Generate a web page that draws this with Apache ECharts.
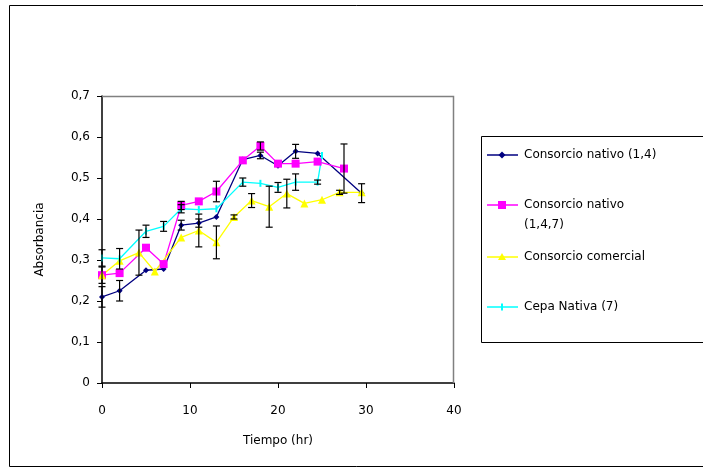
<!DOCTYPE html>
<html>
<head>
<meta charset="utf-8">
<script src="https://cdn.jsdelivr.net/npm/echarts@6/dist/echarts.min.js"></script>
<style>
  html, body { margin: 0; padding: 0; background: #fff; }
  #chart { width: 703px; height: 470px; }
</style>
</head>
<body>
<div id="chart"></div>
<script>
// series names
const names = ['Consorcio nativo (1,4)', 'Consorcio nativo (1,4,7)', 'Consorcio comercial', 'Cepa Nativa (7)']

// Consorcio nativo (1,4)
const navyT = [0, 2, 5, 7, 9, 11, 13, 16, 18, 20, 22, 24.5, 29.5]
const navyY = [0.21, 0.225, 0.275, 0.278, 0.385, 0.39, 0.405, 0.545, 0.555, 0.53, 0.565, 0.56, 0.463]
const navyE = [0.025, 0.025, 0, 0, 0.012, 0.01, 0, 0, 0.008, 0, 0.017, 0, 0.023]

// Consorcio nativo (1,4,7)
const pinkT = [0, 2, 5, 7, 9, 11, 13, 16, 18, 20, 22, 24.5, 27.5]
const pinkY = [0.263, 0.268, 0.33, 0.29, 0.433, 0.443, 0.467, 0.543, 0.578, 0.535, 0.535, 0.54, 0.523]
const pinkE = [0.02, 0, 0, 0, 0.01, 0, 0.025, 0, 0.01, 0, 0, 0, 0.06]

// Consorcio comercial
const yellowT = [0, 2, 4.2, 6, 9, 11, 13, 15, 17, 19, 21, 23, 25, 27, 29.5]
const yellowY = [0.263, 0.298, 0.318, 0.272, 0.355, 0.372, 0.343, 0.405, 0.445, 0.43, 0.462, 0.438, 0.447, 0.465, 0.465]
const yellowE = [0, 0, 0.055, 0, 0, 0.04, 0.04, 0.005, 0.017, 0.05, 0.035, 0, 0, 0.005, 0]

// Cepa Nativa (7)
const cyanT = [0, 2, 5, 7, 9, 11, 13, 16, 18, 20, 22, 24.5, 25]
const cyanY = [0.305, 0.303, 0.37, 0.382, 0.425, 0.423, 0.425, 0.49, 0.487, 0.477, 0.49, 0.49, 0.555]
const cyanE = [0.02, 0.025, 0.015, 0.012, 0.01, 0, 0, 0.01, 0, 0.012, 0.02, 0.005, 0]

const colors = ['#000080', '#ff00ff', '#ffff00', '#00ffff']
const symbols = ['diamond', 'rect', 'triangle', 'rect']
const symbolSizes = [6, 8, 8, [2, 7]]

const yTicks = [0, 0.1, 0.2, 0.3, 0.4, 0.5, 0.6, 0.7]
const xTicks = [0, 10, 20, 30, 40]

const FONT = 'DejaVu Sans'

function pts(t, y) {
  return t.map((v, i) => [v, y[i]])
}
function errs(t, y, e) {
  const out = []
  t.forEach((v, i) => {
    if (e[i] > 0) out.push([v, y[i] - e[i], y[i] + e[i]])
  })
  return out
}

function errRender(params, api) {
  const x = api.value(0)
  const top = api.coord([x, api.value(2)])
  const bot = api.coord([x, api.value(1)])
  const st = { stroke: '#000', lineWidth: 1.2 }
  return {
    type: 'group',
    children: [
      { type: 'line', shape: { x1: top[0], y1: top[1], x2: bot[0], y2: bot[1] }, style: st },
      { type: 'line', shape: { x1: top[0] - 3.5, y1: top[1], x2: top[0] + 3.5, y2: top[1] }, style: st },
      { type: 'line', shape: { x1: bot[0] - 3.5, y1: bot[1], x2: bot[0] + 3.5, y2: bot[1] }, style: st }
    ]
  }
}

const sets = [
  [navyT, navyY, navyE],
  [pinkT, pinkY, pinkE],
  [yellowT, yellowY, yellowE],
  [cyanT, cyanY, cyanE]
]

const series = []
sets.forEach((s, k) => {
  series.push({
    name: names[k],
    type: 'line',
    data: pts(s[0], s[1]),
    symbol: symbols[k],
    symbolSize: symbolSizes[k],
    showAllSymbol: true,
    lineStyle: { color: colors[k], width: 1.3 },
    itemStyle: { color: colors[k] },
    z: 3
  })
  series.push({
    type: 'custom',
    renderItem: errRender,
    data: errs(s[0], s[1], s[2]),
    z: 4,
    silent: true
  })
})

// legend drawn by hand to copy the boxed layout
const legendRows = [
  { y: 155, lines: ['Consorcio nativo (1,4)'] },
  { y: 205, lines: ['Consorcio nativo', '(1,4,7)'] },
  { y: 257, lines: ['Consorcio comercial'] },
  { y: 307, lines: ['Cepa Nativa (7)'] }
]
const legendEls = [
  { type: 'rect', shape: { x: 481.5, y: 136.5, width: 240, height: 206 },
    style: { fill: '#fff', stroke: '#000', lineWidth: 1 }, z: 10 }
]
legendRows.forEach((r, k) => {
  legendEls.push({ type: 'line', shape: { x1: 487, y1: r.y, x2: 518, y2: r.y },
    style: { stroke: colors[k], lineWidth: 1.5 }, z: 11 })
  let m
  if (k === 0) m = { type: 'polygon', shape: { points: [[502, r.y - 3.5], [505.5, r.y], [502, r.y + 3.5], [498.5, r.y]] } }
  else if (k === 1) m = { type: 'rect', shape: { x: 498, y: r.y - 4, width: 8, height: 8 } }
  else if (k === 2) m = { type: 'polygon', shape: { points: [[502, r.y - 4], [506, r.y + 3], [498, r.y + 3]] } }
  else m = { type: 'rect', shape: { x: 501, y: r.y - 3.5, width: 2, height: 7 } }
  m.style = { fill: colors[k] }
  m.z = 12
  legendEls.push(m)
  r.lines.forEach((txt, j) => {
    legendEls.push({ type: 'text', x: 524, y: r.y + j * 20,
      style: { text: txt, font: '12px "' + FONT + '"', fill: '#000', verticalAlign: 'middle' }, z: 11 })
  })
})

const chart = echarts.init(document.getElementById('chart'))
chart.setOption({
  animation: false,
  backgroundColor: '#fff',
  grid: { left: 102, top: 96, right: 249, bottom: 87, show: false },
  xAxis: {
    type: 'value',
    min: 0, max: 40, interval: 10,
    name: 'Tiempo (hr)',
    nameLocation: 'middle',
    nameGap: 52,
    nameTextStyle: { fontFamily: FONT, fontSize: 12, color: '#000' },
    axisLine: { lineStyle: { color: '#000', width: 1.5 } },
    axisTick: { show: true, length: 5, lineStyle: { color: '#000' } },
    axisLabel: { fontFamily: FONT, fontSize: 12, color: '#000', margin: 22,
      formatter: v => xTicks.includes(v) ? String(v) : '' },
    splitLine: { show: false }
  },
  yAxis: {
    type: 'value',
    min: 0, max: 0.7, interval: 0.1,
    name: 'Absorbancia',
    nameLocation: 'middle',
    nameGap: 56,
    nameRotate: 90,
    nameTextStyle: { fontFamily: FONT, fontSize: 12, color: '#000' },
    axisLine: { show: true, lineStyle: { color: '#000', width: 1.5 } },
    axisTick: { show: true, length: 5, lineStyle: { color: '#000' } },
    axisLabel: { fontFamily: FONT, fontSize: 12, color: '#000', margin: 12,
      formatter: v => {
        const t = yTicks.find(a => Math.abs(a - v) < 1e-6)
        return t === undefined ? '' : String(Math.round(t * 10) / 10).replace('.', ',')
      } },
    splitLine: { show: false }
  },
  graphic: [
    { type: 'rect', shape: { x: 9.5, y: 5.5, width: 720, height: 461 },
      style: { fill: 'none', stroke: '#000', lineWidth: 1 }, z: -1 },
    { type: 'polyline', shape: { points: [[102, 96.5], [453.5, 96.5], [453.5, 383]] },
      style: { fill: 'none', stroke: '#808080', lineWidth: 1.5 }, z: 1 }
  ].concat(legendEls),
  series: series
})
</script>
</body>
</html>
